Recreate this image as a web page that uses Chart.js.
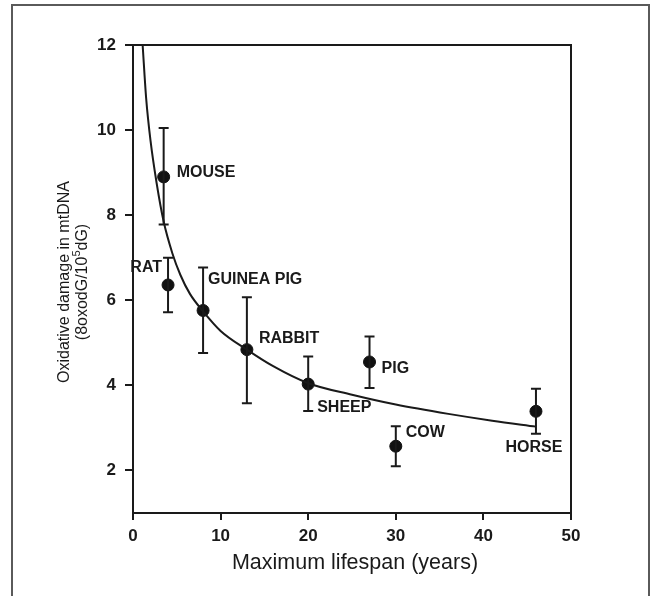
<!DOCTYPE html>
<html>
<head>
<meta charset="utf-8">
<script src="https://cdn.jsdelivr.net/npm/chart.js@4"></script>
<style>
  html, body { margin: 0; padding: 0; background: #fff; overflow: hidden; }
  #wrap { position: relative; width: 655px; height: 596px; }
  #frame { position: absolute; left: 11px; top: 4px; width: 639px; height: 640px; border: 2px solid #5a5a5a; box-sizing: border-box; pointer-events: none; }
  canvas { position: absolute; left: 0; top: 0; }
</style>
</head>
<body>
<div id="wrap">
  <canvas id="chart" width="655" height="596"></canvas>
  <div id="frame"></div>
</div>
<script>
// species and measured values
const animals = ["MOUSE", "RAT", "GUINEA PIG", "RABBIT", "SHEEP", "PIG", "COW", "HORSE"];
const lifespan = [3.5, 4, 8, 13, 20, 27, 30, 46];
const damage = [8.9, 6.36, 5.76, 4.84, 4.03, 4.55, 2.57, 3.39];
const errLow = [7.78, 5.72, 4.76, 3.58, 3.4, 3.94, 2.1, 2.86];
const errHigh = [10.05, 7.0, 6.77, 6.07, 4.68, 5.15, 3.04, 3.92];

// fitted curve
const curveX = [1.1, 1.5, 2, 2.7, 3.5, 4.5, 5.4, 6.5, 8, 10, 13, 16, 20, 25, 30, 36, 41, 46];
const curveY = [12, 10.75, 9.75, 8.75, 7.85, 7.1, 6.6, 6.15, 5.74, 5.28, 4.84, 4.45, 4.05, 3.78, 3.55, 3.33, 3.17, 3.03];

const xTicks = [0, 10, 20, 30, 40, 50];
const yTicks = [2, 4, 6, 8, 10, 12];

// label placement relative to each point (px)
const labelOffsets = [
    { dx: 13, dy: -4, align: "left" },
    { dx: -6, dy: -17, align: "right" },
    { dx: 5, dy: -31, align: "left" },
    { dx: 12, dy: -11, align: "left" },
    { dx: 9, dy: 24, align: "left" },
    { dx: 12, dy: 7, align: "left" },
    { dx: 10, dy: -14, align: "left" },
    { dx: -2, dy: 36, align: "center" },
];

const INK = "#1a1a1a";
const FONT = "'Liberation Sans', Arial, sans-serif";

const extras = {
    id: "extras",
    afterDatasetsDraw(chart) {
        const ctx = chart.ctx;
        const xs = chart.scales.x;
        const ys = chart.scales.y;
        const area = chart.chartArea;
        ctx.save();

        // top and right frame
        ctx.strokeStyle = INK;
        ctx.lineWidth = 2;
        ctx.beginPath();
        ctx.moveTo(area.left, area.top);
        ctx.lineTo(area.right, area.top);
        ctx.lineTo(area.right, area.bottom);
        ctx.stroke();

        // error bars
        ctx.lineWidth = 2;
        lifespan.forEach((v, i) => {
            const px = xs.getPixelForValue(v);
            const lo = ys.getPixelForValue(errLow[i]);
            const hi = ys.getPixelForValue(errHigh[i]);
            ctx.beginPath();
            ctx.moveTo(px, lo);
            ctx.lineTo(px, hi);
            ctx.moveTo(px - 5, lo);
            ctx.lineTo(px + 5, lo);
            ctx.moveTo(px - 5, hi);
            ctx.lineTo(px + 5, hi);
            ctx.stroke();
        });

        // species labels
        ctx.fillStyle = INK;
        ctx.font = "bold 16px " + FONT;
        ctx.textBaseline = "middle";
        animals.forEach((name, i) => {
            const o = labelOffsets[i];
            const px = xs.getPixelForValue(lifespan[i]);
            const py = ys.getPixelForValue(damage[i]);
            ctx.textAlign = o.align;
            ctx.fillText(name, px + o.dx, py + o.dy);
        });

        // y axis title (two lines, rotated)
        const cy = (area.top + area.bottom) / 2 + 3;
        ctx.translate(0, cy);
        ctx.rotate(-Math.PI / 2);
        ctx.textAlign = "center";
        ctx.font = "16px " + FONT;
        ctx.fillText("Oxidative damage in mtDNA", 0, 65);

        const parts = ["(8oxodG/10", "5", "dG)"];
        const fBig = "16px " + FONT;
        const fSmall = "11px " + FONT;
        ctx.font = fBig;
        const w0 = ctx.measureText(parts[0]).width;
        const w2 = ctx.measureText(parts[2]).width;
        ctx.font = fSmall;
        const w1 = ctx.measureText(parts[1]).width;
        let x0 = -(w0 + w1 + w2) / 2;
        ctx.textAlign = "left";
        ctx.font = fBig;
        ctx.fillText(parts[0], x0, 83);
        ctx.font = fSmall;
        ctx.fillText(parts[1], x0 + w0, 77);
        ctx.font = fBig;
        ctx.fillText(parts[2], x0 + w0 + w1, 83);
        ctx.restore();

        // x axis title
        ctx.save();
        ctx.fillStyle = INK;
        ctx.font = "21.5px " + FONT;
        ctx.textAlign = "center";
        ctx.textBaseline = "middle";
        ctx.fillText("Maximum lifespan (years)", (area.left + area.right) / 2 + 3, 563);
        ctx.restore();
    },
};

new Chart(document.getElementById("chart"), {
    type: "scatter",
    data: {
        datasets: [
            {
                type: "line",
                data: curveX.map((x, i) => ({ x: x, y: curveY[i] })),
                borderColor: INK,
                borderWidth: 2,
                pointRadius: 0,
                cubicInterpolationMode: "monotone",
                fill: false,
            },
            {
                data: lifespan.map((x, i) => ({ x: x, y: damage[i] })),
                backgroundColor: "#111",
                borderColor: "#111",
                pointRadius: 6,
            },
        ],
    },
    options: {
        responsive: false,
        animation: false,
        events: [],
        layout: { padding: { top: 45, right: 84, bottom: 0, left: 0 } },
        plugins: { legend: { display: false }, tooltip: { enabled: false } },
        scales: {
            x: {
                type: "linear",
                min: 0,
                max: 50,
                afterFit: (s) => { s.height = 83; },
                afterBuildTicks: (s) => { s.ticks = xTicks.map((v) => ({ value: v })); },
                grid: { drawOnChartArea: false, drawTicks: true, tickLength: 7, color: INK, lineWidth: 2 },
                border: { display: true, color: INK, width: 2 },
                ticks: { color: INK, padding: 6, font: { family: FONT, size: 17, weight: "bold" } },
            },
            y: {
                type: "linear",
                min: 1,
                max: 12,
                afterFit: (s) => { s.width = 133; },
                afterBuildTicks: (s) => { s.ticks = yTicks.map((v) => ({ value: v })); },
                grid: { drawOnChartArea: false, drawTicks: true, tickLength: 8, color: INK, lineWidth: 2 },
                border: { display: true, color: INK, width: 2 },
                ticks: { color: INK, padding: 9, font: { family: FONT, size: 17, weight: "bold" } },
            },
        },
    },
    plugins: [extras],
});
</script>
</body>
</html>
